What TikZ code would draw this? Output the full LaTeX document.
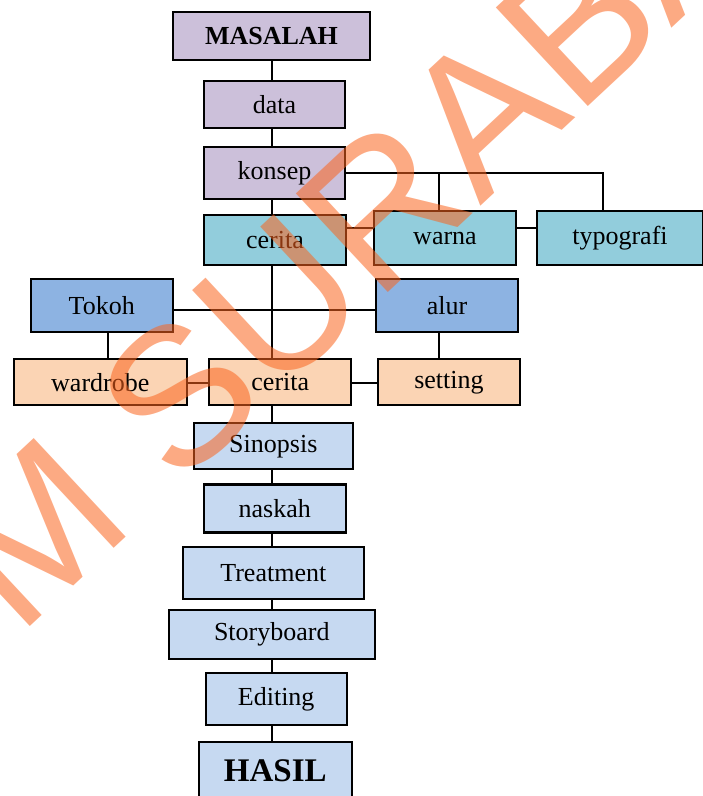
\documentclass[tikz,border=0pt]{standalone}
\usepackage{fontspec}
\setmainfont{Liberation Serif}
\newfontfamily\wmfont{Liberation Sans}

\definecolor{boxlilac}{HTML}{CCC0DA}
\definecolor{boxteal}{HTML}{92CDDC}
\definecolor{boxblue}{HTML}{8DB3E2}
\definecolor{boxpeach}{HTML}{FBD4B4}
\definecolor{boxsky}{HTML}{C6D9F1}
\definecolor{wmorange}{RGB}{250,100,30}

\tikzset{
	    box/.style={
					rectangle,
					draw=black,
					line width=2.3pt,
					inner sep=0pt,
					outer sep=0pt,
					font=\fontsize{26}{28}\selectfont
	    },
	    link/.style={
					black,
					line width=2pt
	    }
		}

\begin{document}
\begin{tikzpicture}[x=1pt, y=-1pt]
			\useasboundingbox (0,0) rectangle (703,796);
			\clip (0,0) rectangle (703,796);

			% trunk and levels of the cross lines
			\coordinate (trunk) at (272,0);
			\coordinate (busW) at (439,173);
			\coordinate (busT) at (603,173);
			\coordinate (lvlA) at (0,228);
			\coordinate (lvlB) at (0,309.5);
			\coordinate (lvlC) at (0,383);
			\coordinate (dropT) at (108,0);

			\node[box, fill=boxlilac, minimum width=197pt, minimum height=48pt, font=\fontsize{26}{28}\selectfont\bfseries] (masalah) at (271.5,36) {MASALAH};
			\node[box, fill=boxlilac, minimum width=141pt, minimum height=47pt] (data) at (274.5,104.5) {data};
			\node[box, fill=boxlilac, minimum width=141pt, minimum height=52pt] (konsep) at (274.5,172.8) {konsep};

			\node[box, fill=boxteal, minimum width=142pt, minimum height=50pt] (ceritaA) at (275,240) {cerita};
			\node[box, fill=boxteal, minimum width=142pt, minimum height=54pt] (warna) at (445,238) {warna};
			\node[box, fill=boxteal, minimum width=166pt, minimum height=54pt] (typografi) at (620,238) {typografi};

			\node[box, fill=boxblue, minimum width=142pt, minimum height=53pt] (tokoh) at (101.7,305.3) {Tokoh};
			\node[box, fill=boxblue, minimum width=142pt, minimum height=53pt] (alur) at (447,305.3) {alur};

			\node[box, fill=boxpeach, minimum width=173pt, minimum height=46pt] (wardrobe) at (100.3,382.2) {wardrobe};
			\node[box, fill=boxpeach, minimum width=142pt, minimum height=46pt] (ceritaB) at (280.3,382.2) {cerita};
			\node[box, fill=boxpeach, minimum width=142pt, minimum height=46pt] (setting) at (449,382.2) {setting};

			\node[box, fill=boxsky, minimum width=159pt, minimum height=46pt] (sinopsis) at (273.3,446.3) {Sinopsis};
			\node[box, fill=boxsky, minimum width=142pt, minimum height=48pt] (naskah) at (274.7,508.5) {naskah};
			\node[box, fill=boxsky, minimum width=181pt, minimum height=52pt] (treatment) at (273.3,572.7) {Treatment};
			\node[box, fill=boxsky, minimum width=206pt, minimum height=49pt] (storyboard) at (271.8,634.7) {Storyboard};
			\node[box, fill=boxsky, minimum width=141pt, minimum height=52pt] (editing) at (276.2,698.8) {Editing};
			\node[box, fill=boxsky, minimum width=153pt, minimum height=58pt, font=\fontsize{33}{35}\selectfont\bfseries] (hasil) at (275.3,771) {HASIL};

			% main line
			\foreach \a/\b in {masalah/data, data/konsep, konsep/ceritaA, ceritaA/ceritaB, ceritaB/sinopsis, sinopsis/naskah, naskah/treatment, treatment/storyboard, storyboard/editing, editing/hasil}
				\draw[link] (\a.south -| trunk) -- (\b.north -| trunk);

			% konsep branches
			\draw[link] (konsep.east |- busT) -- (busT) -- (busT |- typografi.north);
			\draw[link] (busW) -- (busW |- warna.north);
			\draw[link] (ceritaA.east |- lvlA) -- (warna.west |- lvlA);
			\draw[link] (warna.east |- lvlA) -- (typografi.west |- lvlA);

			\draw[link] (tokoh.east |- lvlB) -- (alur.west |- lvlB);
			\draw[link] (tokoh.south -| dropT) -- (wardrobe.north -| dropT);
			\draw[link] (alur.south -| busW) -- (setting.north -| busW);

			\draw[link] (wardrobe.east |- lvlC) -- (ceritaB.west |- lvlC);
			\draw[link] (ceritaB.east |- lvlC) -- (setting.west |- lvlC);

			% watermark
			\node[wmorange, opacity=0.55, rotate=43, anchor=base west, inner sep=0pt, font=\wmfont\fontsize{196}{196}\selectfont] (wm) at (-411.6,1038.8) {STIKOM SURABAYA};
		\end{tikzpicture}
\end{document}
